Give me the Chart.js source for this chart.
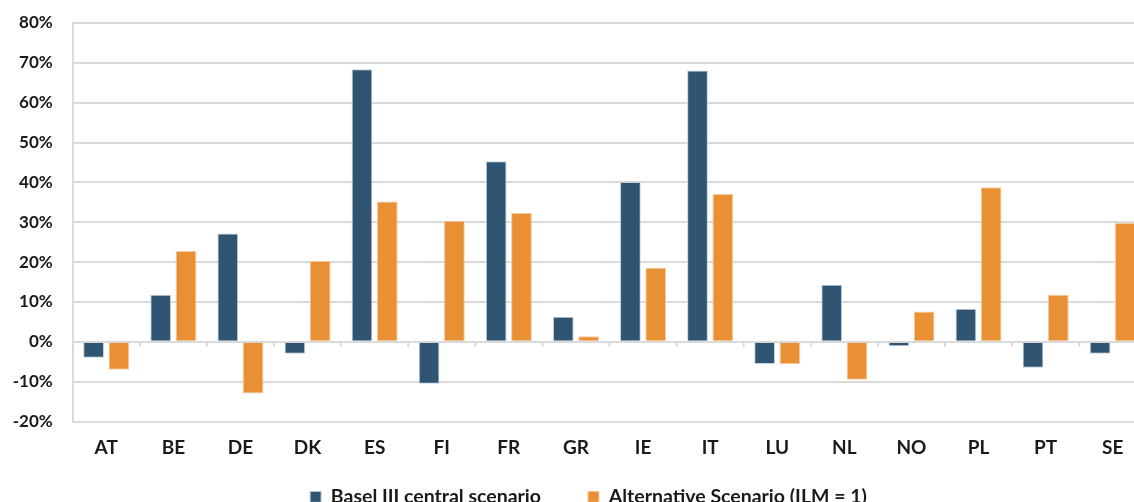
<!DOCTYPE html>
<html>
<head>
<meta charset="utf-8">
<script src="https://cdn.jsdelivr.net/npm/chart.js@4"></script>
<style>
  html, body { margin: 0; padding: 0; overflow: hidden; background: #fff; }
  #wrap { width: 1177px; height: 542px; }
</style>
</head>
<body>
<div id="wrap"><canvas id="chart" width="1177" height="542"></canvas></div>
<script>
// countries on the x axis
const countries = ['AT', 'BE', 'DE', 'DK', 'ES', 'FI', 'FR', 'GR', 'IE', 'IT', 'LU', 'NL', 'NO', 'PL', 'PT', 'SE'];

// values in %
const baselCentral = [-4.0, 11.8, 27.2, -3.0, 68.4, -10.5, 45.3, 6.3, 40.1, 68.1, -5.6, 14.3, -1.1, 8.3, -6.5, -3.0];
const alternative = [-7.0, 22.8, -13.0, 20.3, 35.2, 30.4, 32.3, 1.4, 18.6, 37.1, -5.6, -9.5, 7.6, 38.8, 11.8, 29.8];

const seriesNames = ['Basel III central scenario', 'Alternative Scenario (ILM = 1)'];

const yMin = -20;
const yMax = 80;
const yStep = 10;

const blue = '#2f5573';
const orange = '#e99034';
const gridColor = '#dadada';
const textColor = '#1a1a1a';

// small tick marks on the zero line between the categories
const zeroTicks = {
  id: 'zeroTicks',
  beforeDatasetsDraw(chart) {
    const x = chart.scales.x;
    const y0 = chart.scales.y.getPixelForValue(0);
    const ctx = chart.ctx;
    ctx.save();
    ctx.strokeStyle = gridColor;
    ctx.lineWidth = 2;
    ctx.beginPath();
    for (let i = 1; i < countries.length; i++) {
      const px = (x.getPixelForValue(i - 1) + x.getPixelForValue(i)) / 2;
      ctx.moveTo(px, y0);
      ctx.lineTo(px, y0 + 5);
    }
    ctx.stroke();
    ctx.restore();
  },
};

// pull the legend up closer to the axis labels (chart.js ties its top gap to the item gap)
const legendUp = {
  id: 'legendUp',
  afterLayout(chart) {
    const lg = chart.legend;
    const dy = lg.top - (chart.scales.x.top + 18.6);
    lg.top -= dy;
    lg.bottom -= dy;
  },
};

new Chart(document.getElementById('chart'), {
  type: 'bar',
  data: {
    labels: countries,
    datasets: [
      {
        label: seriesNames[0],
        data: baselCentral,
        backgroundColor: blue,
        borderColor: '#c4d0db',
        borderWidth: 1,
      },
      {
        label: seriesNames[1],
        data: alternative,
        backgroundColor: orange,
        borderColor: '#f5c99c',
        borderWidth: 1,
      },
    ],
  },
  options: {
    responsive: false,
    animation: false,
    events: [],
    categoryPercentage: 0.754,
    barPercentage: 0.82,
    layout: { padding: { top: 23, left: 0, right: 0, bottom: 0 } },
    plugins: {
      legend: {
        position: 'bottom',
        labels: {
          boxWidth: 11,
          boxHeight: 11,
          padding: 47,
          color: textColor,
          font: { family: 'Lato', size: 19.5, weight: 'bold' },
        },
      },
      tooltip: { enabled: false },
    },
    scales: {
      x: {
        grid: { display: false },
        border: { display: false },
        ticks: {
          color: textColor,
          font: { family: 'Lato', size: 19, weight: 'bold' },
          padding: 7,
        },
        afterFit: (s) => { s.height = 44; },
      },
      y: {
        min: yMin,
        max: yMax,
        ticks: {
          stepSize: yStep,
          color: textColor,
          font: { family: 'Lato', size: 17, weight: 'bold' },
          padding: 20,
          callback: (v) => v + '%',
        },
        grid: { color: gridColor, lineWidth: 2, drawTicks: false },
        border: { display: true, color: gridColor, width: 2 },
        afterFit: (s) => {
          s.width = 72.7;
          s.paddingTop = 0;
          s.paddingBottom = 0;
        },
      },
      // empty right axis so the plot runs past the picture edge like the original
      yRight: {
        position: 'right',
        grid: { display: false },
        border: { display: false },
        ticks: { display: false },
        afterFit: (s) => { s.width = 30.7; },
      },
    },
  },
  plugins: [zeroTicks, legendUp],
});
</script>
</body>
</html>
